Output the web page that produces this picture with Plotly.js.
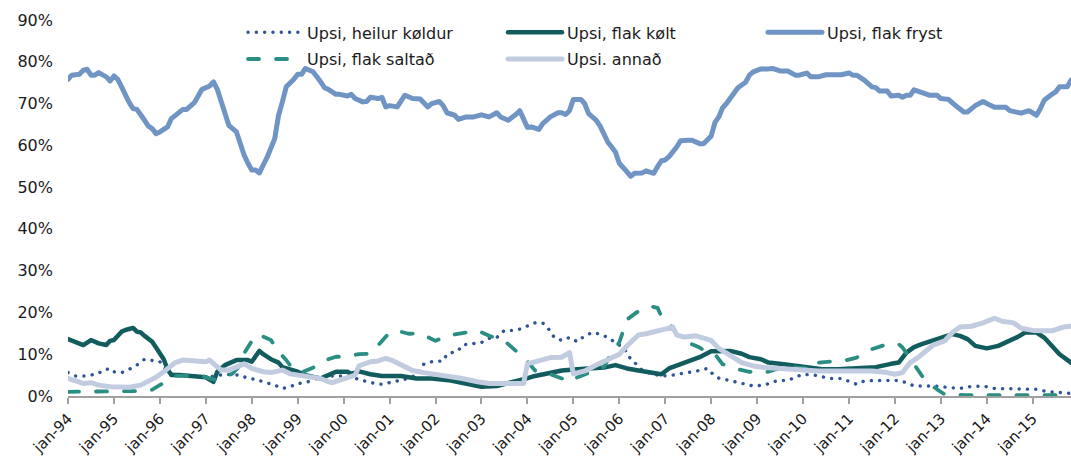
<!DOCTYPE html>
<html>
<head>
<meta charset="utf-8">
<script src="https://cdn.plot.ly/plotly-3.0.1.min.js"></script>
<style>
html,body{margin:0;padding:0;background:#fff;}
#chart{width:1071px;height:457px;}
#chart .scatterlayer path.js-line, #chart .legendlines path.js-line{stroke-linecap:round !important;stroke-linejoin:round !important;}
</style>
</head>
<body>
<div id="chart"></div>
<script>
// Months are counted from jan-94 (0 = jan-94)
const tickMonths = [0,12,24,36,48,60,72,84,96,108,120,132,144,156,168,180,192,204,216,228,240,252];
const tickLabels = ['jan-94','jan-95','jan-96','jan-97','jan-98','jan-99','jan-00','jan-01','jan-02','jan-03','jan-04','jan-05','jan-06','jan-07','jan-08','jan-09','jan-10','jan-11','jan-12','jan-13','jan-14','jan-15'];

const heilurMonths = [0,2,5,8,9,11,12,14,16,18,20,22,24,25,26,29,33,37,41,45,47,49,51,54,56,58,60,62,64,66,68,70,73,74,77,79,82,84,86,88,91,93,95,98,99,102,103,105,108,110,112,114,116,118,120,122,124,126,127,129,131,133,135,137,139,141,143,145,146,147,149,150,153,155,158,160,162,165,167,168,170,173,176,179,182,184,186,188,190,192,195,197,199,202,204,206,208,210,215,217,219,221,226,228,230,233,235,237,239,242,251,253,256,258,260,262];
const heilurValues = [5.6,4.8,4.8,5.4,6.1,6.6,5.8,5.6,6.4,7.4,8.8,8.5,8.2,7.0,5.6,5.0,4.8,4.6,5.2,5.0,4.2,4.0,3.4,2.6,1.8,2.2,3.0,3.2,3.8,4.6,4.8,4.8,4.8,4.5,3.7,3.2,2.8,3.2,3.4,4.0,5.0,7.7,8.2,8.4,10.0,10.9,12.2,12.4,12.8,13.8,14.0,15.7,15.7,16.0,16.7,17.5,17.5,15.6,14.0,13.3,14.0,13.0,14.4,15.2,14.8,14.0,12.8,11.6,10.4,8.8,7.2,6.1,5.2,4.8,5.0,5.3,5.8,6.1,6.6,5.6,4.3,3.7,3.2,2.4,2.6,3.4,3.7,3.7,4.5,5.2,5.0,4.5,4.2,4.2,3.4,2.8,3.6,3.7,3.7,3.7,3.2,2.4,2.4,2.2,2.0,1.8,2.2,2.4,2.4,1.8,1.8,1.6,1.0,1.0,0.8,0.6];

const koltMonths = [0,2,4,6,8,10,11,12,14,15,17,18,19,20,22,23,24,25,26,27,29,32,34,36,38,39,41,42,44,47,48,50,51,53,55,56,58,60,62,64,66,68,70,73,74,76,79,82,87,91,95,100,104,108,112,115,119,122,126,129,133,136,140,143,146,149,153,155,157,160,162,165,168,170,173,176,178,181,183,187,190,194,197,201,204,208,211,215,217,219,221,223,226,229,231,233,235,237,240,243,245,248,250,253,255,257,259,262];
const koltValues = [13.6,13.0,12.2,13.4,12.6,12.2,13.2,13.4,15.4,15.8,16.3,15.4,15.2,14.4,13.0,11.6,10.2,8.8,6.4,5.0,5.0,4.8,4.5,4.5,3.4,5.8,7.4,7.8,8.6,8.6,8.2,10.8,10.0,8.8,8.0,6.9,6.4,5.8,5.0,4.6,4.2,5.0,5.8,5.8,5.3,5.9,5.2,4.8,4.8,4.2,4.2,3.7,3.0,2.2,2.4,3.0,4.0,4.8,5.6,6.1,6.4,6.6,6.8,7.4,6.6,6.1,5.6,5.2,6.6,7.6,8.2,9.3,10.7,10.8,10.8,10.1,9.3,8.8,8.0,7.6,7.2,6.6,6.4,6.4,6.6,6.6,6.9,7.7,8.0,10.4,11.7,12.4,13.3,14.4,14.8,14.4,13.6,12.0,11.4,12.0,12.8,14.1,15.2,15.2,14.0,12.0,10.0,8.0];

const frystMonths = [0,1,3,4,5,6,7,8,10,11,12,13,14,15,16,17,18,20,21,22,23,24,26,27,29,30,31,33,34,35,37,38,39,40,41,42,44,45,46,47,48,49,50,51,52,54,55,56,57,59,60,61,62,64,65,66,67,68,70,71,73,74,75,77,78,79,81,82,83,84,86,87,88,90,92,94,95,97,98,99,101,102,104,106,108,110,112,113,115,117,118,120,121,123,124,126,128,129,130,131,132,134,135,136,138,139,140,141,143,144,145,147,148,150,151,153,154,155,156,157,159,160,162,163,165,166,168,169,170,171,172,174,175,177,178,179,181,183,184,186,188,190,191,193,194,196,198,202,204,205,206,208,209,210,211,212,214,215,217,218,219,220,221,223,225,227,228,230,231,232,234,235,237,239,240,242,245,246,248,249,251,252,253,254,255,257,258,259,261,262];
const frystValues = [75.8,76.8,77.0,78.0,78.2,76.8,76.8,77.4,76.4,75.4,76.6,75.8,74.0,72.0,70.2,68.8,68.6,66.0,64.6,64.0,62.8,63.2,64.4,66.4,67.8,68.6,68.6,70.2,71.8,73.4,74.2,75.2,73.4,70.4,67.2,64.8,63.2,60.0,57.7,55.7,54.1,54.1,53.4,55.3,57.1,61.6,67.2,70.4,74.0,75.8,77.0,77.0,78.4,77.6,76.6,75.2,73.8,73.4,72.2,72.2,71.8,72.2,71.2,70.4,70.5,71.5,71.2,71.5,69.2,69.5,69.2,70.8,72.0,71.2,71.1,69.2,70.0,70.5,69.5,67.8,67.2,66.2,66.8,66.8,67.3,66.8,67.8,66.8,66.0,67.4,68.3,64.3,64.4,63.8,65.2,66.8,67.8,67.8,67.4,68.3,71.0,71.0,69.9,67.6,66.0,64.6,62.8,60.8,58.4,55.7,54.7,52.6,53.3,53.4,53.9,53.3,54.9,56.3,56.5,57.3,59.6,61.1,61.2,61.2,60.4,60.4,62.2,65.5,66.8,69.0,70.0,72.4,73.8,75.1,76.8,77.6,78.3,78.3,78.4,77.8,77.8,76.8,76.8,77.3,76.4,76.4,76.9,76.9,77.3,76.8,76.8,75.6,74.8,74.0,73.8,73.0,73.0,71.8,72.0,71.5,72.0,72.0,73.3,72.8,72.0,72.0,71.2,71.0,70.0,69.4,68.0,68.0,69.5,70.5,70.0,69.1,69.1,68.3,67.9,67.7,68.3,67.7,67.2,68.8,70.8,72.2,72.8,74.0,74.0,75.6];

const saltMonths = [0,4,9,14,18,20,22,24,26,28,30,35,37,39,41,43,45,46,49,51,53,55,57,59,61,63,65,68,70,72,74,76,79,82,84,86,89,92,96,99,104,107,110,114,117,119,122,126,129,130,134,137,140,142,144,146,149,152,154,155,158,159,161,165,167,169,171,175,178,182,185,189,192,195,196,199,203,206,210,214,217,218,220,222,224,227,229,234,262];
const saltValues = [1.0,1.0,1.2,1.2,1.2,1.2,1.5,2.6,3.7,4.8,4.8,4.8,4.2,3.8,4.5,5.4,7.4,10.2,14.6,14.2,13.4,10.6,8.6,6.2,5.6,6.4,7.2,8.8,9.4,9.4,9.8,10.0,10.1,13.3,15.2,15.6,14.9,15.0,13.2,14.4,15.2,15.7,14.4,13.2,10.8,9.3,6.1,5.2,4.2,3.4,4.8,6.0,7.0,10.4,12.8,18.3,20.3,21.5,21.1,19.1,16.3,14.8,13.2,11.6,10.4,10.0,7.6,6.4,5.8,5.6,6.4,6.9,6.6,6.4,8.0,8.2,8.5,9.2,11.2,12.4,12.4,11.6,8.8,6.0,3.6,1.6,0.4,0.2,0.2];

const annadMonths = [0,2,4,6,8,11,14,16,19,21,23,25,28,30,32,34,36,37,39,40,42,44,46,48,51,53,56,58,61,63,66,68,69,71,73,75,76,79,81,83,85,88,90,93,96,100,103,107,110,114,119,120,122,126,129,131,132,135,138,141,144,146,149,151,154,156,158,159,161,164,166,168,170,173,176,179,182,186,189,193,196,200,203,207,210,214,216,218,220,222,224,226,229,231,233,236,239,242,244,247,249,252,255,257,260,262];
const annadValues = [4.2,3.7,3.0,3.2,2.6,2.2,2.1,2.1,2.6,3.4,4.5,5.8,8.0,8.6,8.5,8.2,8.2,8.6,7.2,6.2,6.2,6.9,7.7,6.6,5.8,5.6,6.2,5.3,5.0,4.5,4.2,3.4,3.2,3.8,4.5,5.0,7.2,8.2,8.4,9.0,8.4,7.2,6.1,5.6,5.2,4.8,4.2,3.4,3.0,3.0,3.0,7.7,8.2,9.2,9.3,10.4,5.3,6.0,7.4,8.8,10.0,12.0,14.6,14.9,15.6,16.0,16.5,14.6,14.1,14.4,14.0,13.3,11.4,9.6,8.0,7.2,6.8,6.6,6.4,6.1,6.0,6.0,6.0,6.0,6.0,5.6,5.2,5.6,8.0,9.2,10.8,12.2,13.2,15.2,16.5,16.7,17.5,18.6,17.9,17.5,16.2,15.7,15.6,15.6,16.5,16.7];

const FONT = '"DejaVu Sans", sans-serif';

const traces = [
  {name:'Upsi, heilur køldur', x:heilurMonths, y:heilurValues, type:'scatter', mode:'lines', legend:'legend',
   line:{color:'#2f5597', width:3.4, dash:'0.1px,8.2px'}},
  {name:'Upsi, flak kølt', x:koltMonths, y:koltValues, type:'scatter', mode:'lines', legend:'legend',
   line:{color:'#135c5e', width:4.5}},
  {name:'Upsi, flak fryst', x:frystMonths, y:frystValues, type:'scatter', mode:'lines', legend:'legend',
   line:{color:'#7094c4', width:5}},
  {name:'Upsi, flak saltað', x:saltMonths, y:saltValues, type:'scatter', mode:'lines', legend:'legend2',
   line:{color:'#2a8f82', width:3.8, dash:'11px,17px'}},
  {name:'Upsi. annað', x:annadMonths, y:annadValues, type:'scatter', mode:'lines', legend:'legend2',
   line:{color:'#c2cce0', width:5}}
];

const legendBase = {orientation:'h', x:0.1745, xanchor:'left', yanchor:'middle',
  bgcolor:'rgba(0,0,0,0)', entrywidth:191, itemwidth:54,
  font:{family:FONT, size:16, color:'#1a1a1a'}};

const layout = {
  width:1071, height:457,
  margin:{l:68, r:0, t:20, b:61, pad:0},
  paper_bgcolor:'#ffffff', plot_bgcolor:'#ffffff',
  font:{family:FONT, size:16, color:'#1a1a1a'},
  showlegend:true,
  legend:Object.assign({}, legendBase, {y:0.967}),
  legend2:Object.assign({}, legendBase, {y:0.896}),
  xaxis:{type:'linear', range:[0,262], tickmode:'array', tickvals:tickMonths, ticktext:tickLabels,
         tickangle:-45, showgrid:false, zeroline:false, showline:true, linecolor:'#a0a0a0', linewidth:2,
         ticks:'outside', ticklen:6, tickwidth:2, tickcolor:'#a0a0a0',
         tickfont:{family:FONT, size:15, color:'#1a1a1a'}, fixedrange:true},
  yaxis:{range:[0,90], tickmode:'linear', tick0:0, dtick:10, ticksuffix:'%', showgrid:false,
         zeroline:false, showline:false, ticks:'', ticklabelstandoff:14,
         tickfont:{family:FONT, size:16, color:'#1a1a1a'}, fixedrange:true}
};

Plotly.newPlot('chart', traces, layout, {displayModeBar:false, staticPlot:true});
</script>
</body>
</html>
